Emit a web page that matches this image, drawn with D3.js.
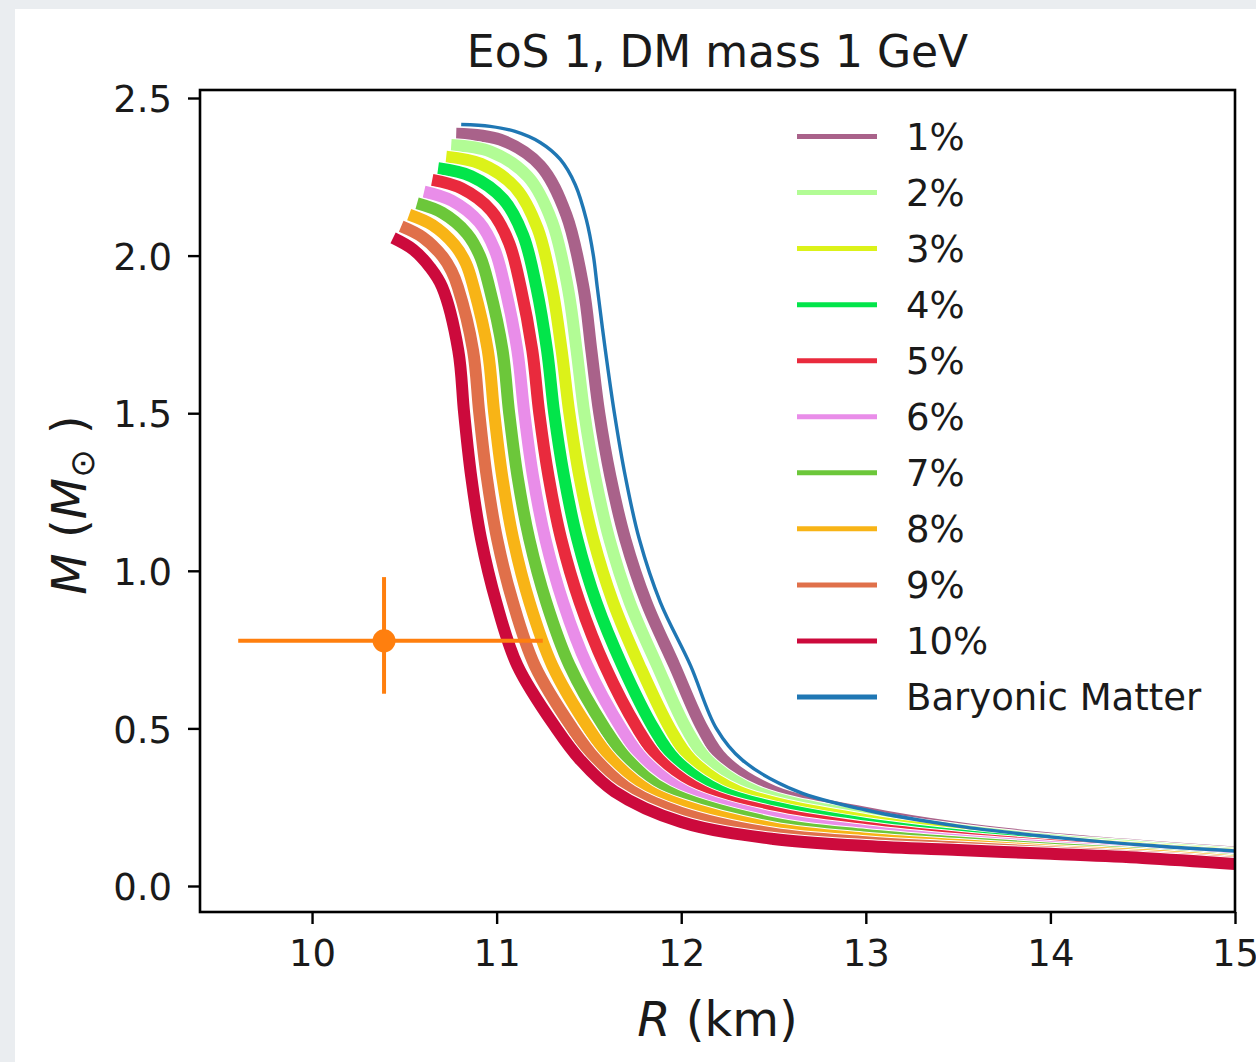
<!DOCTYPE html>
<html><head><meta charset="utf-8">
<script src="https://cdn.jsdelivr.net/npm/d3@7"></script>
<style>
html,body{margin:0;padding:0;background:#eaedf0;}
svg{display:block;font-family:"DejaVu Sans",sans-serif;}
</style></head><body>
<svg id="chart" width="1256" height="1062"></svg>
<script>
// ---------------- data ----------------
const seriesLabels = ["1%","2%","3%","4%","5%","6%","7%","8%","9%","10%","Baryonic Matter"];

// [R (km), M (Msun)]
const dm1 = [[10.781,2.387],[11.020,2.368],[11.236,2.286],[11.377,2.130],[11.470,1.900],[11.513,1.7],[11.556,1.5],[11.616,1.3],[11.697,1.1],[11.811,0.9],[11.963,0.7],[12.115,0.5],[12.229,0.4],[12.500,0.3],[13.0,0.232],[13.5,0.184],[14.0,0.151],[14.5,0.127],[15.0,0.106]];
const dm2 = [[10.754,2.351],[10.967,2.330],[11.170,2.250],[11.300,2.108],[11.385,1.900],[11.433,1.7],[11.475,1.5],[11.533,1.3],[11.611,1.1],[11.721,0.9],[11.869,0.7],[12.027,0.5],[12.143,0.4],[12.404,0.3],[13.0,0.220],[13.5,0.177],[14.0,0.145],[14.5,0.123],[15.0,0.102]];
const dm3 = [[10.727,2.314],[10.915,2.291],[11.104,2.214],[11.222,2.086],[11.300,1.900],[11.352,1.7],[11.394,1.5],[11.448,1.3],[11.524,1.1],[11.631,0.9],[11.774,0.7],[11.939,0.5],[12.056,0.4],[12.309,0.3],[13.0,0.209],[13.5,0.169],[14.0,0.140],[14.5,0.118],[15.0,0.098]];
const dm4 = [[10.683,2.277],[10.862,2.252],[11.037,2.178],[11.144,2.064],[11.215,1.900],[11.273,1.7],[11.312,1.5],[11.365,1.3],[11.437,1.1],[11.540,0.9],[11.680,0.7],[11.851,0.5],[11.970,0.4],[12.213,0.3],[12.5,0.250],[13.0,0.197],[13.5,0.161],[14.0,0.134],[14.5,0.114],[15.0,0.094]];
const dm5 = [[10.651,2.240],[10.810,2.213],[10.971,2.142],[11.067,2.041],[11.130,1.900],[11.193,1.7],[11.231,1.5],[11.281,1.3],[11.350,1.1],[11.450,0.9],[11.585,0.7],[11.763,0.5],[11.884,0.4],[12.117,0.3],[12.5,0.233],[13.0,0.185],[13.5,0.153],[14.0,0.129],[14.5,0.110],[15.0,0.090]];
const dm6 = [[10.607,2.203],[10.758,2.174],[10.905,2.106],[10.989,2.019],[11.045,1.900],[11.112,1.7],[11.150,1.5],[11.197,1.3],[11.264,1.1],[11.360,0.9],[11.490,0.7],[11.675,0.5],[11.798,0.4],[12.021,0.3],[12.5,0.216],[13.0,0.174],[13.5,0.145],[14.0,0.124],[14.5,0.106],[15.0,0.086]];
const dm7 = [[10.569,2.166],[10.705,2.136],[10.839,2.070],[10.911,1.997],[10.960,1.900],[11.032,1.7],[11.068,1.5],[11.113,1.3],[11.177,1.1],[11.269,0.9],[11.395,0.7],[11.587,0.5],[11.712,0.4],[11.925,0.3],[12.5,0.199],[13.0,0.162],[13.5,0.138],[14.0,0.118],[14.5,0.102],[15.0,0.082]];
const dm8 = [[10.526,2.130],[10.652,2.097],[10.772,2.034],[10.834,1.975],[10.875,1.900],[10.952,1.7],[10.987,1.5],[11.030,1.3],[11.090,1.1],[11.178,0.9],[11.301,0.7],[11.499,0.5],[11.626,0.4],[11.829,0.3],[12.0,0.257],[12.5,0.183],[13.0,0.150],[13.5,0.130],[14.0,0.112],[14.5,0.098],[15.0,0.078]];
const dm9 = [[10.483,2.093],[10.600,2.058],[10.706,1.998],[10.755,1.952],[10.790,1.900],[10.872,1.7],[10.906,1.5],[10.946,1.3],[11.003,1.1],[11.088,0.9],[11.206,0.7],[11.411,0.5],[11.540,0.4],[11.734,0.3],[12.0,0.232],[12.5,0.166],[13.0,0.139],[13.5,0.122],[14.0,0.107],[14.5,0.093],[15.0,0.074]];
const dm10 = [[10.439,2.056],[10.548,2.019],[10.640,1.962],[10.705,1.900],[10.792,1.7],[10.824,1.5],[10.862,1.3],[10.916,1.1],[10.998,0.9],[11.112,0.7],[11.323,0.5],[11.453,0.4],[11.638,0.3],[12.0,0.203],[12.5,0.149],[13.0,0.127],[13.5,0.114],[14.0,0.102],[14.5,0.089],[15.0,0.070]];
const baryonic = [[10.808,2.416],[10.965,2.410],[11.100,2.394],[11.236,2.359],[11.345,2.305],[11.426,2.225],[11.486,2.114],[11.524,2.0],[11.545,1.9],[11.589,1.7],[11.638,1.5],[11.697,1.3],[11.773,1.1],[11.887,0.9],[12.050,0.7],[12.190,0.5],[12.330,0.4],[12.630,0.3],[13.0,0.241],[13.5,0.190],[14.0,0.156],[14.5,0.130],[15.0,0.111]];

const obsPoint = [10.39, 0.778];
const obsRange = [9.60, 11.25];
const obsMassRange = [0.61, 0.98];

const xTicks = [10, 11, 12, 13, 14, 15];
const yTicks = [0.0, 0.5, 1.0, 1.5, 2.0, 2.5];
const yTickLabels = ["0.0","0.5","1.0","1.5","2.0","2.5"];

// ---------------- styles ----------------
const seriesColors = ["#a9628a","#b2fc95","#dcf219","#02e54a","#e92a3d","#e98de9","#6cc73a","#f8b416","#e0704a","#cc0a3c","#1f77b4"];
const dmSeries = [dm1,dm2,dm3,dm4,dm5,dm6,dm7,dm8,dm9,dm10];

const svg = d3.select("#chart");
svg.append("rect").attr("x",15).attr("y",9).attr("width",1241).attr("height",1053).attr("fill","#ffffff");

const L = 200, R = 1235, T = 90, B = 912;
const x = d3.scaleLinear().domain([9.393, 15]).range([L, R]);
const y = d3.scaleLinear().domain([-0.0825, 2.5254]).range([B, T]);

svg.append("defs").append("clipPath").attr("id","clip")
  .append("rect").attr("x",L).attr("y",T).attr("width",R-L).attr("height",B-T);

const plot = svg.append("g").attr("clip-path","url(#clip)");
const line = d3.line().x(d=>x(d[0])).y(d=>y(d[1])).curve(d3.curveCatmullRom.alpha(0.5));

dmSeries.forEach((s,i)=>{
  plot.append("path").attr("d",line(s)).attr("fill","none")
    .attr("stroke","#ffffff").attr("stroke-width",14).attr("stroke-linejoin","round");
  plot.append("path").attr("d",line(s)).attr("fill","none")
    .attr("stroke",seriesColors[i]).attr("stroke-width",12).attr("stroke-linejoin","round");
});
plot.append("path").attr("d",line(baryonic)).attr("fill","none")
  .attr("stroke",seriesColors[10]).attr("stroke-width",3.4).attr("stroke-linejoin","round");

// error bar
const eb = plot.append("g").attr("stroke","#ff7f0e").attr("stroke-width",4);
eb.append("line").attr("x1",x(obsRange[0])).attr("x2",x(obsRange[1])).attr("y1",y(obsPoint[1])).attr("y2",y(obsPoint[1]));
eb.append("line").attr("x1",x(obsPoint[0])).attr("x2",x(obsPoint[0])).attr("y1",y(obsMassRange[0])).attr("y2",y(obsMassRange[1]));
plot.append("circle").attr("cx",x(obsPoint[0])).attr("cy",y(obsPoint[1])).attr("r",11.5).attr("fill","#ff7f0e");

// axes
const fs = 37;
const xAxis = svg.append("g").attr("transform",`translate(0,${B})`)
  .call(d3.axisBottom(x).tickValues(xTicks).tickFormat(d3.format("d")).tickSize(12).tickSizeOuter(0).tickPadding(16));
const yAxis = svg.append("g").attr("transform",`translate(${L},0)`)
  .call(d3.axisLeft(y).tickValues(yTicks).tickFormat((d,i)=>yTickLabels[i]).tickSize(12).tickSizeOuter(0).tickPadding(16));
[xAxis,yAxis].forEach(a=>{
  a.select(".domain").remove();
  a.selectAll(".tick line").attr("stroke","#000").attr("stroke-width",2.4);
  a.selectAll(".tick text").attr("fill","#1a1a1a").style("font-size",fs+"px").style("font-family","DejaVu Sans");
});
yAxis.selectAll(".tick text").attr("dy","0.37em");

svg.append("rect").attr("x",L).attr("y",T).attr("width",R-L).attr("height",B-T)
  .attr("fill","none").attr("stroke","#000").attr("stroke-width",2.6);

// title
svg.append("text").attr("x",(L+R)/2).attr("y",67).attr("text-anchor","middle")
  .style("font-size","44px").attr("fill","#1a1a1a").text("EoS 1, DM mass 1 GeV");

// x label
const xl = svg.append("text").attr("x",(L+R)/2).attr("y",1036).attr("text-anchor","middle")
  .style("font-size","48px").attr("fill","#1a1a1a");
xl.append("tspan").style("font-style","italic").text("R");
xl.append("tspan").text(" (km)");

// y label
const yl = svg.append("text").attr("transform","translate(86,505) rotate(-90)").attr("text-anchor","middle")
  .style("font-size","48px").attr("fill","#1a1a1a");
yl.append("tspan").style("font-style","italic").text("M");
yl.append("tspan").text(" (");
yl.append("tspan").style("font-style","italic").text("M");
yl.append("tspan").attr("dy",8).style("font-size","34px").text("\u2299");
yl.append("tspan").attr("dy",-8).text(" )");

// legend
const lg = svg.append("g");
seriesLabels.forEach((lab,i)=>{
  const ly = 136.5 + 56.05*i;
  lg.append("line").attr("x1",797).attr("x2",877).attr("y1",ly).attr("y2",ly)
    .attr("stroke",seriesColors[i]).attr("stroke-width",5);
  lg.append("text").attr("x",906).attr("y",ly+13).style("font-size",fs+"px").attr("fill","#1a1a1a").text(lab);
});
</script>
</body></html>
